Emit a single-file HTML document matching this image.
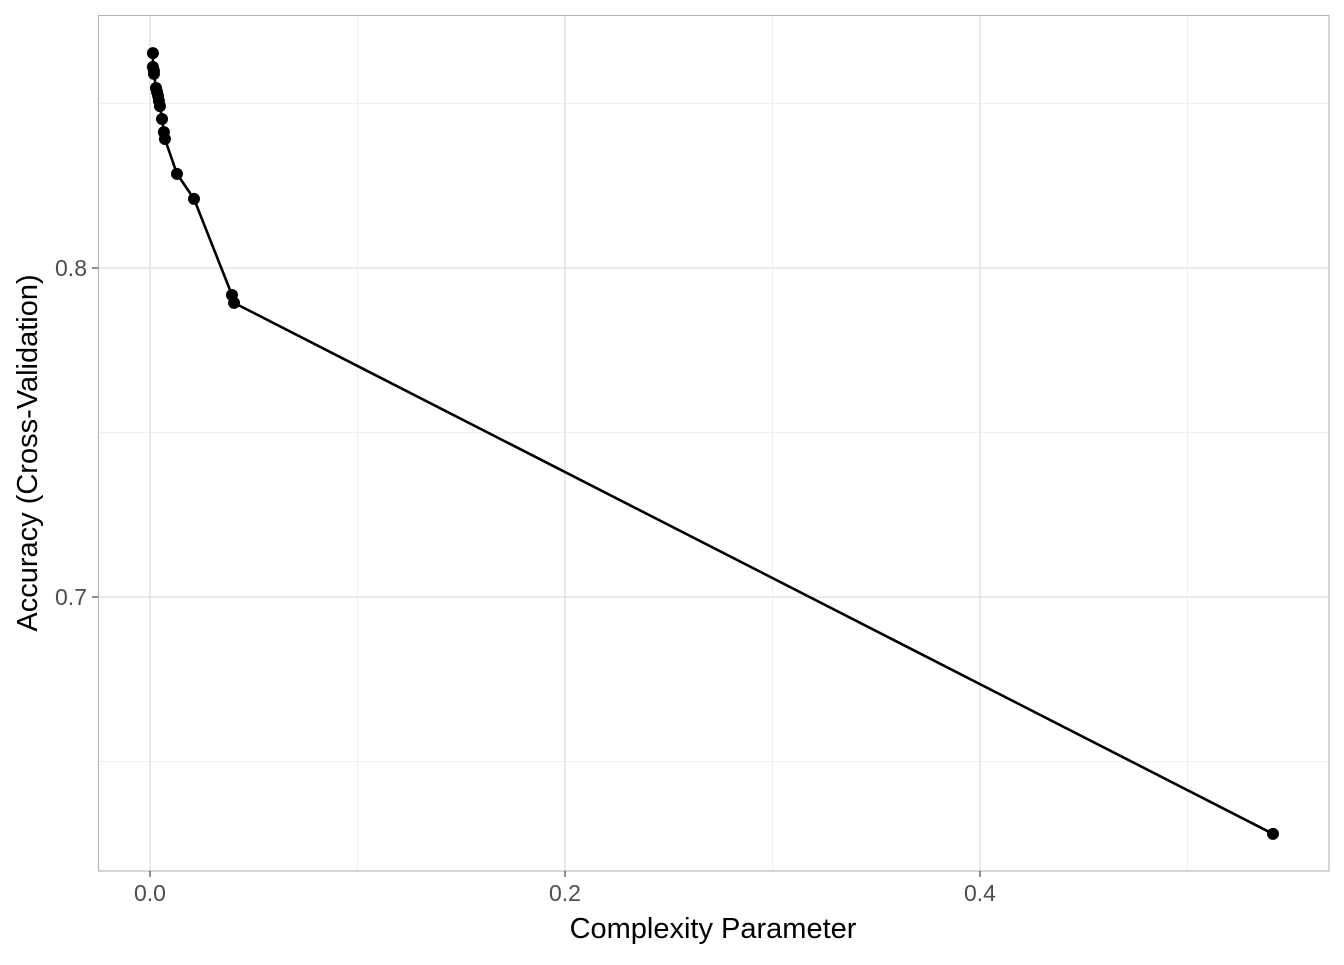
<!DOCTYPE html>
<html><head><meta charset="utf-8"><style>
body{margin:0;background:#fff;font-family:"Liberation Sans",sans-serif}
svg text{font-family:"Liberation Sans",sans-serif}
</style></head><body>
<svg id="chart" width="1344" height="960">
<g id="grid"></g>
<rect x="98.5" y="15.5" width="1230.5" height="855.5" fill="none" stroke="#b3b3b3" stroke-width="1.1"/>
<g id="marks"></g>
<g id="axes"></g>
<text x="713" y="938" font-size="29" text-anchor="middle" fill="#000">Complexity Parameter</text>
<text transform="translate(37,453) rotate(-90)" font-size="29" text-anchor="middle" fill="#000">Accuracy (Cross-Validation)</text>
</svg>
<script>
const cpValues=[0.0014,0.0014,0.0019,0.0019,0.0029,0.0034,0.0039,0.0043,0.0048,0.0058,0.0067,0.0072,0.0130,0.0212,0.0395,0.0405,0.5412];
const accValues=[0.8653,0.8611,0.8599,0.8590,0.8547,0.8535,0.8523,0.8508,0.8492,0.8453,0.8413,0.8392,0.8286,0.8210,0.7918,0.7894,0.6280];
const xTicks=[0,0.2,0.4];
const xTickLabels=["0.0","0.2","0.4"];
const xMinor=[0.1,0.3,0.5];
const yTicks=[0.7,0.8];
const yTickLabels=["0.7","0.8"];
const yMinor=[0.65,0.75,0.85];
const NS="http://www.w3.org/2000/svg";
const xs=v=>150+v*2075;
const ys=v=>268-(v-0.8)*3290;
function mk(t,a,p){const e=document.createElementNS(NS,t);for(const k in a)e.setAttribute(k,a[k]);p.appendChild(e);return e;}
const grid=document.getElementById('grid'),marks=document.getElementById('marks'),axes=document.getElementById('axes');
xMinor.forEach(v=>{const l=mk('line',{x1:xs(v),x2:xs(v),y1:15,y2:871,stroke:'#f0f0f0','stroke-width':1},grid);

});
yMinor.forEach(v=>{const l=mk('line',{x1:98,x2:1329,y1:ys(v),y2:ys(v),stroke:'#f0f0f0','stroke-width':1},grid);

});
xTicks.forEach((v,i)=>{const l=mk('line',{x1:xs(v),x2:xs(v),y1:15,y2:871,stroke:'#dedede','stroke-width':1.3},grid);


const t=mk('line',{x1:xs(v),x2:xs(v),y1:871,y2:877,stroke:'#333','stroke-width':1.1},axes);


const tx=mk('text',{x:xs(v),y:901,'font-size':23,'text-anchor':'middle',fill:'#4d4d4d'},axes);tx.textContent=xTickLabels[i];

});
yTicks.forEach((v,i)=>{const l=mk('line',{x1:98,x2:1329,y1:ys(v),y2:ys(v),stroke:'#dedede','stroke-width':1.3},grid);


const t=mk('line',{x1:92,x2:98,y1:ys(v),y2:ys(v),stroke:'#333','stroke-width':1.1},axes);


const tx=mk('text',{x:87,y:ys(v)+8,'font-size':23,'text-anchor':'end',fill:'#4d4d4d'},axes);tx.textContent=yTickLabels[i];

});
const pl=mk('polyline',{points:cpValues.map((v,i)=>xs(v)+','+ys(accValues[i])).join(' '),fill:'none',stroke:'#000','stroke-width':2.6},marks);


cpValues.forEach((v,i)=>{const c=mk('circle',{cx:xs(v),cy:ys(accValues[i]),r:6,fill:'#000'},marks);

});
</script>
</body></html>
